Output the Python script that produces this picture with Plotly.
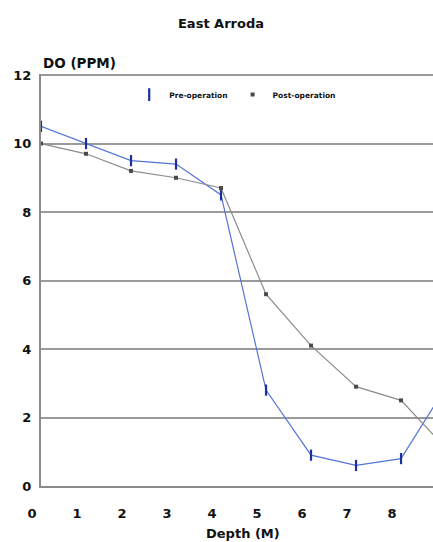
import plotly.graph_objects as go

depth = [0, 1, 2, 3, 4, 5, 6, 7, 8, 9]
pre_op = [10.5, 10.0, 9.5, 9.4, 8.5, 2.8, 0.9, 0.6, 0.8, 2.9]
post_op = [10.0, 9.7, 9.2, 9.0, 8.7, 5.6, 4.1, 2.9, 2.5, 1.1]
x_ticks = [0, 1, 2, 3, 4, 5, 6, 7, 8]
y_ticks = [0, 2, 4, 6, 8, 10, 12]

FONT = "DejaVu Sans, Liberation Sans, Arial, sans-serif"
PRE_LINE = "#5574d8"
PRE_MARK = "#1c2f9c"
POST_LINE = "#8c8c8c"
POST_MARK = "#4a4a4a"

W, H = 433, 542

fig = go.Figure()
fig.add_trace(go.Scatter(
    x=depth, y=pre_op, name="Pre-operation", mode="lines+markers", showlegend=False,
    legendgroup="pre",
    line=dict(color=PRE_LINE, width=1.2),
    marker=dict(symbol="line-ns", size=8, color=PRE_MARK,
                line=dict(color=PRE_MARK, width=2.2)),
))
fig.add_trace(go.Scatter(
    x=depth, y=post_op, name="Post-operation", mode="lines+markers", showlegend=False,
    legendgroup="post",
    line=dict(color=POST_LINE, width=1.2),
    marker=dict(symbol="square", size=4, color=POST_MARK),
))
# legend entries (glyph only, as in the reference)
fig.add_trace(go.Scatter(
    x=[None], y=[None], name="<b>Pre-operation</b>", mode="markers", legendgroup="pre",
    marker=dict(symbol="line-ns", size=9, color=PRE_MARK, line=dict(color=PRE_MARK, width=2.2)),
))
fig.add_trace(go.Scatter(
    x=[None], y=[None], name="<b>Post-operation</b>", mode="markers", legendgroup="post",
    marker=dict(symbol="square", size=4, color=POST_MARK),
))

fig.update_layout(
    width=W, height=H,
    margin=dict(l=41, r=0, t=74, b=56, pad=0),
    paper_bgcolor="white", plot_bgcolor="white",
    font=dict(family=FONT, color="#111"),
    title=dict(text="<b>East Arroda</b>", x=221 / W, xref="container", xanchor="center",
               y=1 - 23 / H, yref="container", yanchor="middle",
               font=dict(size=13, family=FONT, color="#111")),
    showlegend=True,
    legend=dict(orientation="h", x=0.225, xanchor="left", y=0.95, yanchor="middle",
                font=dict(size=7.5, family=FONT, color="#111"),
                itemwidth=30, bgcolor="rgba(0,0,0,0)"),
    xaxis=dict(range=[0, 8.71], tickvals=x_ticks, ticktext=[f"<b>{v}</b>" for v in x_ticks],
               showgrid=False, zeroline=False, showline=True, linecolor="#8a8a8a", linewidth=2,
               ticks="outside", ticklen=14, tickcolor="rgba(0,0,0,0)", ticklabelshift=-9,
               automargin=False,
               tickfont=dict(size=13, family=FONT, color="#111")),
    yaxis=dict(range=[0, 12.03], tickvals=y_ticks, ticktext=[f"<b>{v}</b>" for v in y_ticks],
               showgrid=True, gridcolor="#9a9a9a", gridwidth=1.6, zeroline=False,
               showline=True, linecolor="#8a8a8a", linewidth=2,
               ticks="outside", ticklen=5, tickcolor="rgba(0,0,0,0)",
               automargin=False,
               tickfont=dict(size=13, family=FONT, color="#111")),
    annotations=[
        dict(text="<b>DO (PPM)</b>", xref="paper", yref="paper", x=0, y=1,
             xanchor="left", yanchor="bottom", yshift=1, showarrow=False,
             font=dict(size=13.5, family=FONT, color="#111")),
        dict(text="<b>Depth (M)</b>", xref="paper", yref="paper", x=(243 - 41) / 392, y=0,
             xanchor="center", yanchor="middle", yshift=-47, showarrow=False,
             font=dict(size=13, family=FONT, color="#111")),
    ],
)

fig.write_html(
    "out.html",
    config={"displayModeBar": False},
    post_script="document.body.style.margin='0px';document.body.style.overflow='hidden';",
)
